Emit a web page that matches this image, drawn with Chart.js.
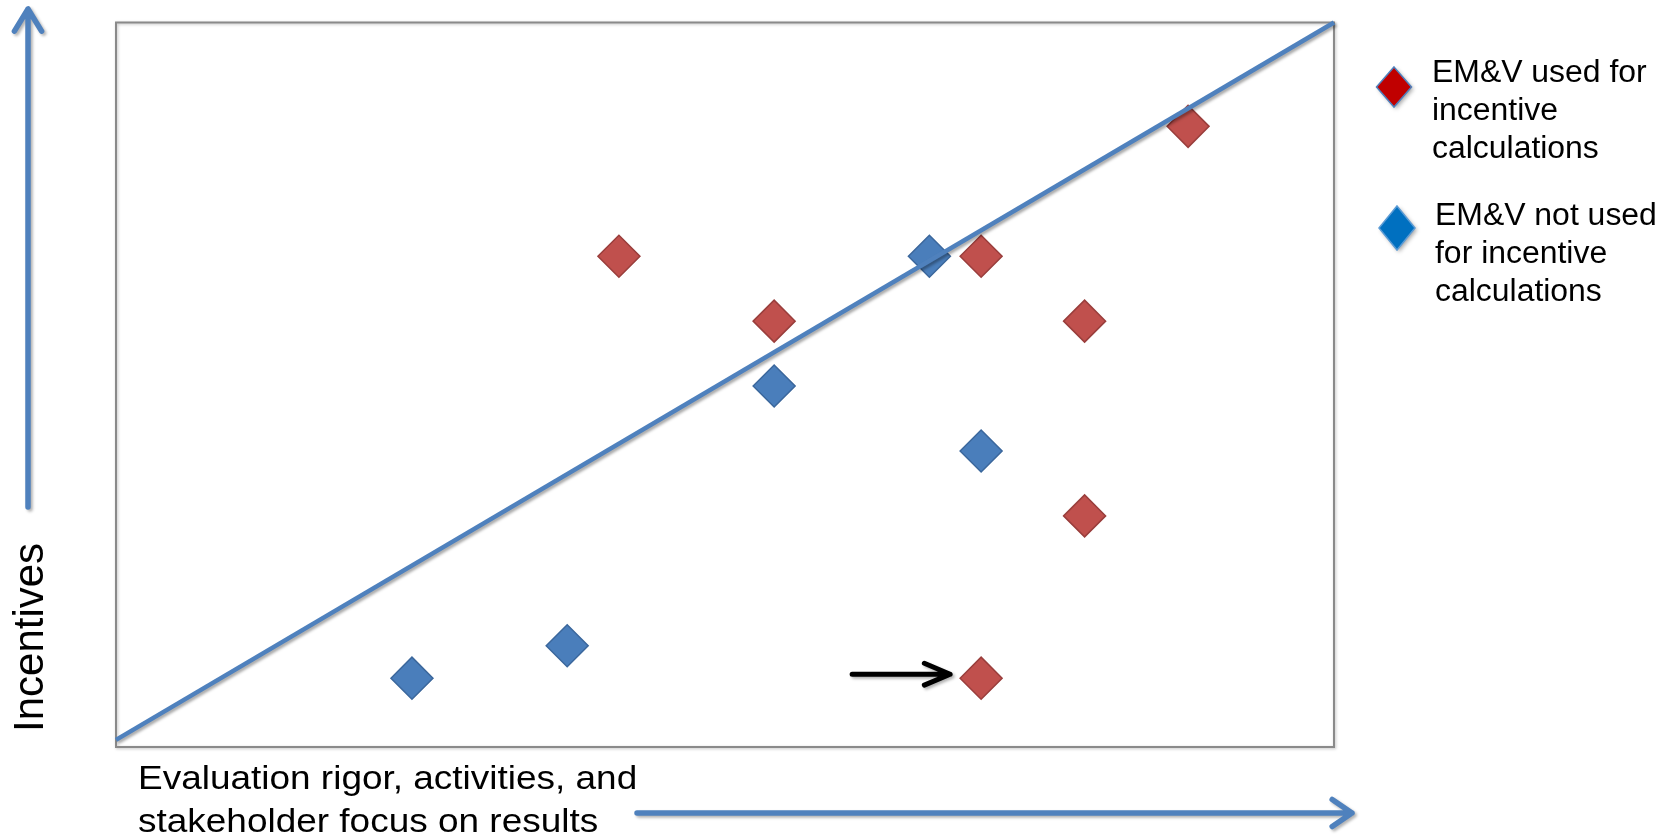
<!DOCTYPE html>
<html>
<head>
<meta charset="utf-8">
<title>EM&amp;V and incentives</title>
<script src="https://cdn.jsdelivr.net/npm/chart.js@4/dist/chart.umd.min.js"></script>
<style>
  html, body { margin: 0; padding: 0; background: #fff; }
  #wrap { width: 1676px; height: 838px; }
</style>
</head>
<body>
<div id="wrap"><canvas id="chart_emv"></canvas></div>
<script>
// EM&V used for incentive calculations (red)
const used_x = [5, 6.5, 8.5, 9.5, 9.5, 10.5, 8.5];
const used_y = [7.5, 6.5, 7.5, 6.5, 3.5, 9.5, 1];

// EM&V not used for incentive calculations (blue)
const notUsed_x = [3, 4.5, 6.5, 8, 8.5];
const notUsed_y = [1, 1.5, 5.5, 7.5, 4.5];

// diagonal line, corner to corner
const line_x = [0.14, 11.91];
const line_y = [0.05, 11.1];

const legendText = [
    ["EM&V used for", "incentive", "calculations"],
    ["EM&V not used", "for incentive", "calculations"]
];
const xTitle = ["Evaluation rigor, activities, and", "stakeholder focus on results"];
const yTitle = "Incentives";

// the arrow points at this red marker
const pointedAt = 6;

const FONT = '"Liberation Sans", Arial, sans-serif';
const BLUE = "#4F81BD";

function toPoints(xs, ys) {
    return xs.map((x, i) => ({ x: x, y: ys[i] }));
}

function arrow(ctx, x1, y1, x2, y2, head, spread, color, width) {
    const a = Math.atan2(y2 - y1, x2 - x1);
    ctx.beginPath();
    ctx.moveTo(x1, y1);
    ctx.lineTo(x2, y2);
    ctx.moveTo(x2 - head * Math.cos(a - spread), y2 - head * Math.sin(a - spread));
    ctx.lineTo(x2, y2);
    ctx.lineTo(x2 - head * Math.cos(a + spread), y2 - head * Math.sin(a + spread));
    ctx.strokeStyle = color;
    ctx.lineWidth = width;
    ctx.lineCap = "round";
    ctx.lineJoin = "round";
    ctx.stroke();
}

function text(ctx, str, x, y, size, sx) {
    ctx.save();
    ctx.translate(x, y);
    ctx.scale(sx, 1);
    ctx.font = size + "px " + FONT;
    ctx.fillStyle = "#000";
    ctx.textBaseline = "alphabetic";
    ctx.fillText(str, 0, 0);
    ctx.restore();
}

function diamond(ctx, cx, cy, hw, hh, fill, stroke) {
    ctx.save();
    ctx.shadowColor = "rgba(0,0,0,0.35)";
    ctx.shadowBlur = 4;
    ctx.shadowOffsetX = 2;
    ctx.shadowOffsetY = 2;
    ctx.beginPath();
    ctx.moveTo(cx, cy - hh);
    ctx.lineTo(cx + hw, cy);
    ctx.lineTo(cx, cy + hh);
    ctx.lineTo(cx - hw, cy);
    ctx.closePath();
    ctx.fillStyle = fill;
    ctx.fill();
    ctx.shadowColor = "transparent";
    ctx.strokeStyle = stroke;
    ctx.lineWidth = 1.5;
    ctx.stroke();
    ctx.restore();
}

const decorations = {
    id: "decorations",
    beforeDatasetsDraw(chart) {
        const ctx = chart.ctx;
        const a = chart.chartArea;
        ctx.save();
        ctx.shadowColor = "rgba(0,0,0,0.25)";
        ctx.shadowBlur = 3;
        ctx.shadowOffsetX = 1;
        ctx.shadowOffsetY = 1;
        ctx.strokeStyle = "#8a8a8a";
        ctx.lineWidth = 2;
        ctx.strokeRect(a.left, a.top, a.right - a.left, a.bottom - a.top);
        ctx.restore();
    },
    beforeDatasetDraw(chart, args) {
        if (args.index === 0) {
            const ctx = chart.ctx;
            ctx.save();
            ctx.shadowColor = "rgba(0,0,0,0.35)";
            ctx.shadowBlur = 3;
            ctx.shadowOffsetX = 2;
            ctx.shadowOffsetY = 2;
        }
    },
    afterDatasetDraw(chart, args) {
        if (args.index === 0) chart.ctx.restore();
    },
    afterDraw(chart) {
        const ctx = chart.ctx;
        const a = chart.chartArea;
        const xs = chart.scales.x;
        const ys = chart.scales.y;

        // axis arrows
        ctx.save();
        ctx.shadowColor = "rgba(0,0,0,0.3)";
        ctx.shadowBlur = 3;
        ctx.shadowOffsetX = 2;
        ctx.shadowOffsetY = 2;
        arrow(ctx, 28, 507, 28, 9, 26, 0.55, BLUE, 5.5);
        arrow(ctx, 637, 813, 1352, 813, 24, 0.6, BLUE, 5.5);

        // black pointer at one red marker
        const px = xs.getPixelForValue(used_x[pointedAt]) - 31;
        const py = ys.getPixelForValue(used_y[pointedAt]) - 4;
        arrow(ctx, px - 98, py, px, py, 28, 0.4, "#000", 5);
        ctx.restore();

        // axis titles
        text(ctx, xTitle[0], a.left + 22, 789, 33, 1.12);
        text(ctx, xTitle[1], a.left + 22, 832, 33, 1.12);

        ctx.save();
        ctx.translate(43, 732);
        ctx.rotate(-Math.PI / 2);
        ctx.font = "42px " + FONT;
        ctx.fillStyle = "#000";
        ctx.fillText(yTitle, 0, 0);
        ctx.restore();

        // legend
        diamond(ctx, 1394, 87, 17.5, 20, "#C00000", BLUE);
        diamond(ctx, 1397, 228, 18, 22, "#0070C0", "#5B9BD5");
        legendText[0].forEach((s, i) => text(ctx, s, 1432, 82 + i * 38, 31, 1.03));
        legendText[1].forEach((s, i) => text(ctx, s, 1435, 225 + i * 38, 31, 1.03));
    }
};

const ctx_emv = document.getElementById("chart_emv");

new Chart(ctx_emv, {
    type: "scatter",
    data: {
        datasets: [
            {
                label: "line",
                data: toPoints(line_x, line_y),
                showLine: true,
                borderColor: BLUE,
                borderWidth: 4.5,
                pointRadius: 0,
                clip: false
            },
            {
                label: legendText[0].join(" "),
                data: toPoints(used_x, used_y),
                pointStyle: "rectRot",
                pointRadius: 21,
                pointHoverRadius: 21,
                backgroundColor: "#C0504D",
                borderColor: "#9A3E3C",
                borderWidth: 1.5
            },
            {
                label: legendText[1].join(" "),
                data: toPoints(notUsed_x, notUsed_y),
                pointStyle: "rectRot",
                pointRadius: 21,
                pointHoverRadius: 21,
                backgroundColor: "#4A7EBB",
                borderColor: "#3B679C",
                borderWidth: 1.5
            }
        ]
    },
    options: {
        responsive: true,
        maintainAspectRatio: false,
        animation: false,
        layout: {
            padding: { left: 116, top: 21, right: 342, bottom: 91 }
        },
        scales: {
            x: { display: false, min: 0.14, max: 11.91 },
            y: { display: false, min: -0.06, max: 11.1 }
        },
        plugins: {
            legend: { display: false },
            tooltip: { enabled: false }
        }
    },
    plugins: [decorations]
});
</script>
</body>
</html>
